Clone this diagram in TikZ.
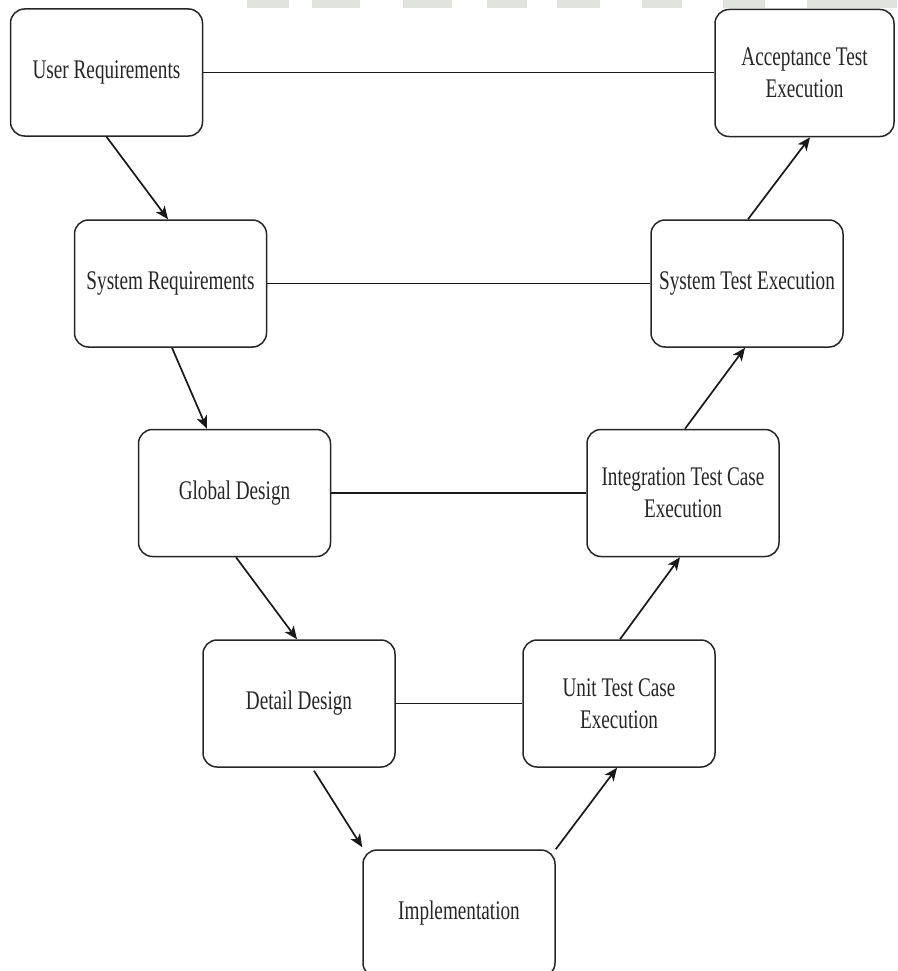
\documentclass[tikz,border=0pt]{standalone}
\usepackage{fontspec}
\setmainfont[FakeStretch=0.714]{Liberation Serif}
\usetikzlibrary{arrows.meta}
\definecolor{barcol}{HTML}{E1E3DF}
\definecolor{txtcol}{HTML}{262626}
\tikzset{
  stage/.style={draw=black!85, line width=1.5pt, rounded corners=14pt, fill=white,
    minimum width=192pt, minimum height=127pt, inner sep=0pt, align=center,
    text=txtcol, font=\fontsize{26.9pt}{31.7pt}\selectfont},
  arr/.style={line width=1.7pt, black!90, -{Stealth[length=13pt,width=11pt,inset=3.5pt]}},
  link/.style={line width=1.7pt, black!90},
  bar/.style={fill=barcol, draw=none}
}
\begin{document}
\begin{tikzpicture}[x=1pt,y=-1pt]
\useasboundingbox (0,0) rectangle (897,971);
\clip (0,0) rectangle (897,971);
\fill[white] (0,0) rectangle (897,971);
% watermark bars
\foreach \a/\b in {247/289,312/360,403/452,487/527,557/600,642/682,723/765,807/897}
  \path[bar] (\a,0) rectangle (\b,8);
% nodes
\node[stage] (ur) at (106.5,72.5) {User Requirements};
\node[stage] (sr) at (170.5,283.5) {System Requirements};
\node[stage] (gd) at (234.5,493) {Global Design};
\node[stage] (dd) at (299,703.5) {Detail Design};
\node[stage] (im) at (459,913.5) {Implementation};
\node[stage] (ut) at (619,703.5) {Unit Test Case\\Execution};
\node[stage] (it) at (683,493) {Integration Test Case\\Execution};
\node[stage] (st) at (747,283.5) {System Test Execution};
\node[stage, minimum width=179pt] (at) at (804.5,73) {Acceptance Test\\Execution};
% horizontal links
\draw[link] (ur.east) -- (at.west |- ur.east);
\draw[link] (sr.east) -- (st.west);
\draw[link] (gd.east) -- (it.west);
\draw[link] (dd.east) -- (ut.west);
% arrows down the left side
\draw[arr] (ur.south) -- ([xshift=-2.5pt]sr.north);
\draw[arr] ([xshift=1.5pt]sr.south) -- ([xshift=-27.5pt]gd.north);
\draw[arr] ([xshift=1.5pt]gd.south) -- ([xshift=-2pt]dd.north);
\draw[arr] ([xshift=15pt,yshift=-3pt]dd.south) -- ([yshift=2pt]im.north west);
% arrows up the right side
\draw[arr] (im.north east) -- ([xshift=-2pt]ut.south);
\draw[arr] ([xshift=1pt]ut.north) -- ([xshift=-3pt]it.south);
\draw[arr] ([xshift=2pt]it.north) -- ([xshift=-2pt]st.south);
\draw[arr] ([xshift=1pt]st.north) -- ([xshift=5.5pt]at.south);
\end{tikzpicture}
\end{document}
